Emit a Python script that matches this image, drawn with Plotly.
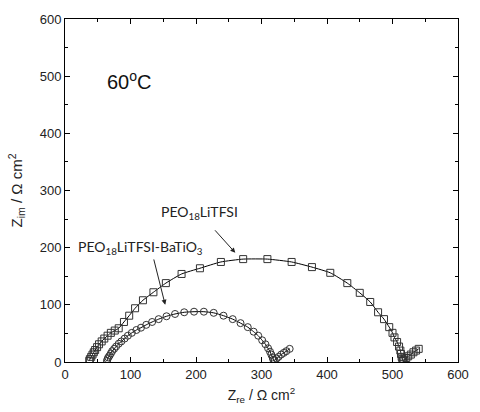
import plotly.graph_objects as go

# PEO18LiTFSI (open squares)
peo_x = [37, 38, 40, 42, 44, 46, 49, 52, 56, 60, 65, 70, 76, 82, 90, 98, 107, 119, 135, 154, 178, 206, 238, 272, 309, 346, 377, 405, 431, 450, 466, 478, 487, 495, 500, 503, 507, 510, 512, 513, 514, 515, 516, 518, 521, 524, 528, 532, 536, 540]
peo_y = [2, 5, 9, 13, 17, 21, 26, 31, 36, 41, 46, 51, 55, 59, 70, 81, 94, 108, 122, 138, 154, 164, 175, 180, 180, 175, 166, 156, 138, 121, 105, 87, 75, 61, 51, 43, 35, 27, 20, 14, 9, 5, 3, 4, 7, 10, 13, 17, 20, 23]

# PEO18LiTFSI-BaTiO3 (open circles)
bto_x = [64, 65, 66, 68, 70, 72, 75, 78, 82, 86, 91, 96, 102, 109, 116, 124, 133, 143, 155, 168, 182, 197, 212, 227, 242, 256, 268, 279, 288, 295, 301, 306, 310, 313, 315, 317, 318, 320, 323, 326, 330, 334, 338, 343]
bto_y = [2, 5, 8, 11, 15, 19, 23, 27, 32, 36, 41, 46, 51, 56, 60, 65, 70, 75, 80, 84, 87, 88, 88, 86, 81, 75, 68, 61, 53, 46, 38, 31, 24, 18, 13, 8, 4, 3, 6, 9, 13, 16, 19, 23]

x_ticks = [0, 100, 200, 300, 400, 500, 600]
y_ticks = [0, 100, 200, 300, 400, 500, 600]

fig = go.Figure()
fig.add_trace(go.Scatter(
    x=peo_x, y=peo_y, mode="lines+markers",
    line=dict(color="black", width=1, shape="spline", smoothing=0.5),
    marker=dict(symbol="square-open", size=7, color="#333333", line=dict(width=1)),
    showlegend=False))
fig.add_trace(go.Scatter(
    x=bto_x, y=bto_y, mode="lines+markers",
    line=dict(color="black", width=1, shape="spline", smoothing=0.5),
    marker=dict(symbol="circle-open", size=7, color="#333333", line=dict(width=1)),
    showlegend=False))

axis_common = dict(
    showline=True, linecolor="black", linewidth=1, mirror="ticks",
    ticks="inside", ticklen=5, tickcolor="black", tickwidth=1,
    showgrid=False, zeroline=False,
    minor=dict(ticks="inside", ticklen=3, tickcolor="black", dtick=50, showgrid=False),
    tickfont=dict(family="Liberation Sans, Arial", size=13, color="#222222"),
)

fig.update_xaxes(range=[0, 600], tickvals=x_ticks, dtick=100,
                 title=dict(text="Z<sub>re</sub> / Ω cm<sup>2</sup>",
                            font=dict(family="Liberation Sans, Arial", size=14, color="#222222"),
                            standoff=9),
                 **axis_common)
fig.update_yaxes(range=[0, 600], tickvals=y_ticks, dtick=100,
                 title=dict(text="Z<sub>im</sub> / Ω cm<sup>2</sup>",
                            font=dict(family="Liberation Sans, Arial", size=15, color="#222222"),
                            standoff=13),
                 **axis_common)

ann_font = dict(family="Lato, Open Sans", size=14, color="#222222")
fig.add_annotation(x=98, y=493, text="60<sup>o</sup>C", showarrow=False,
                   font=dict(family="Liberation Sans, Arial", size=20, color="#111111"))
fig.add_annotation(x=205, y=261, text="PEO<sub>18</sub>LiTFSI", showarrow=False, font=ann_font)
fig.add_annotation(x=115, y=201, text="PEO<sub>18</sub>LiTFSI-BaTiO<sub>3</sub>",
                   showarrow=False, font=ann_font)
fig.add_annotation(x=260, y=191, ax=227, ay=233, axref="x", ayref="y",
                   text="", showarrow=True,
                   arrowhead=2, arrowsize=1, arrowwidth=1, arrowcolor="#222222",
                   standoff=0, startstandoff=0)
fig.add_annotation(x=153, y=100, ax=135, ay=182, axref="x", ayref="y",
                   text="", showarrow=True,
                   arrowhead=2, arrowsize=1, arrowwidth=1, arrowcolor="#222222",
                   standoff=0, startstandoff=0)

fig.update_layout(width=480, height=412,
                  margin=dict(l=65, r=11, t=19, b=50),
                  plot_bgcolor="white", paper_bgcolor="white")

fig.write_html("out.html")
